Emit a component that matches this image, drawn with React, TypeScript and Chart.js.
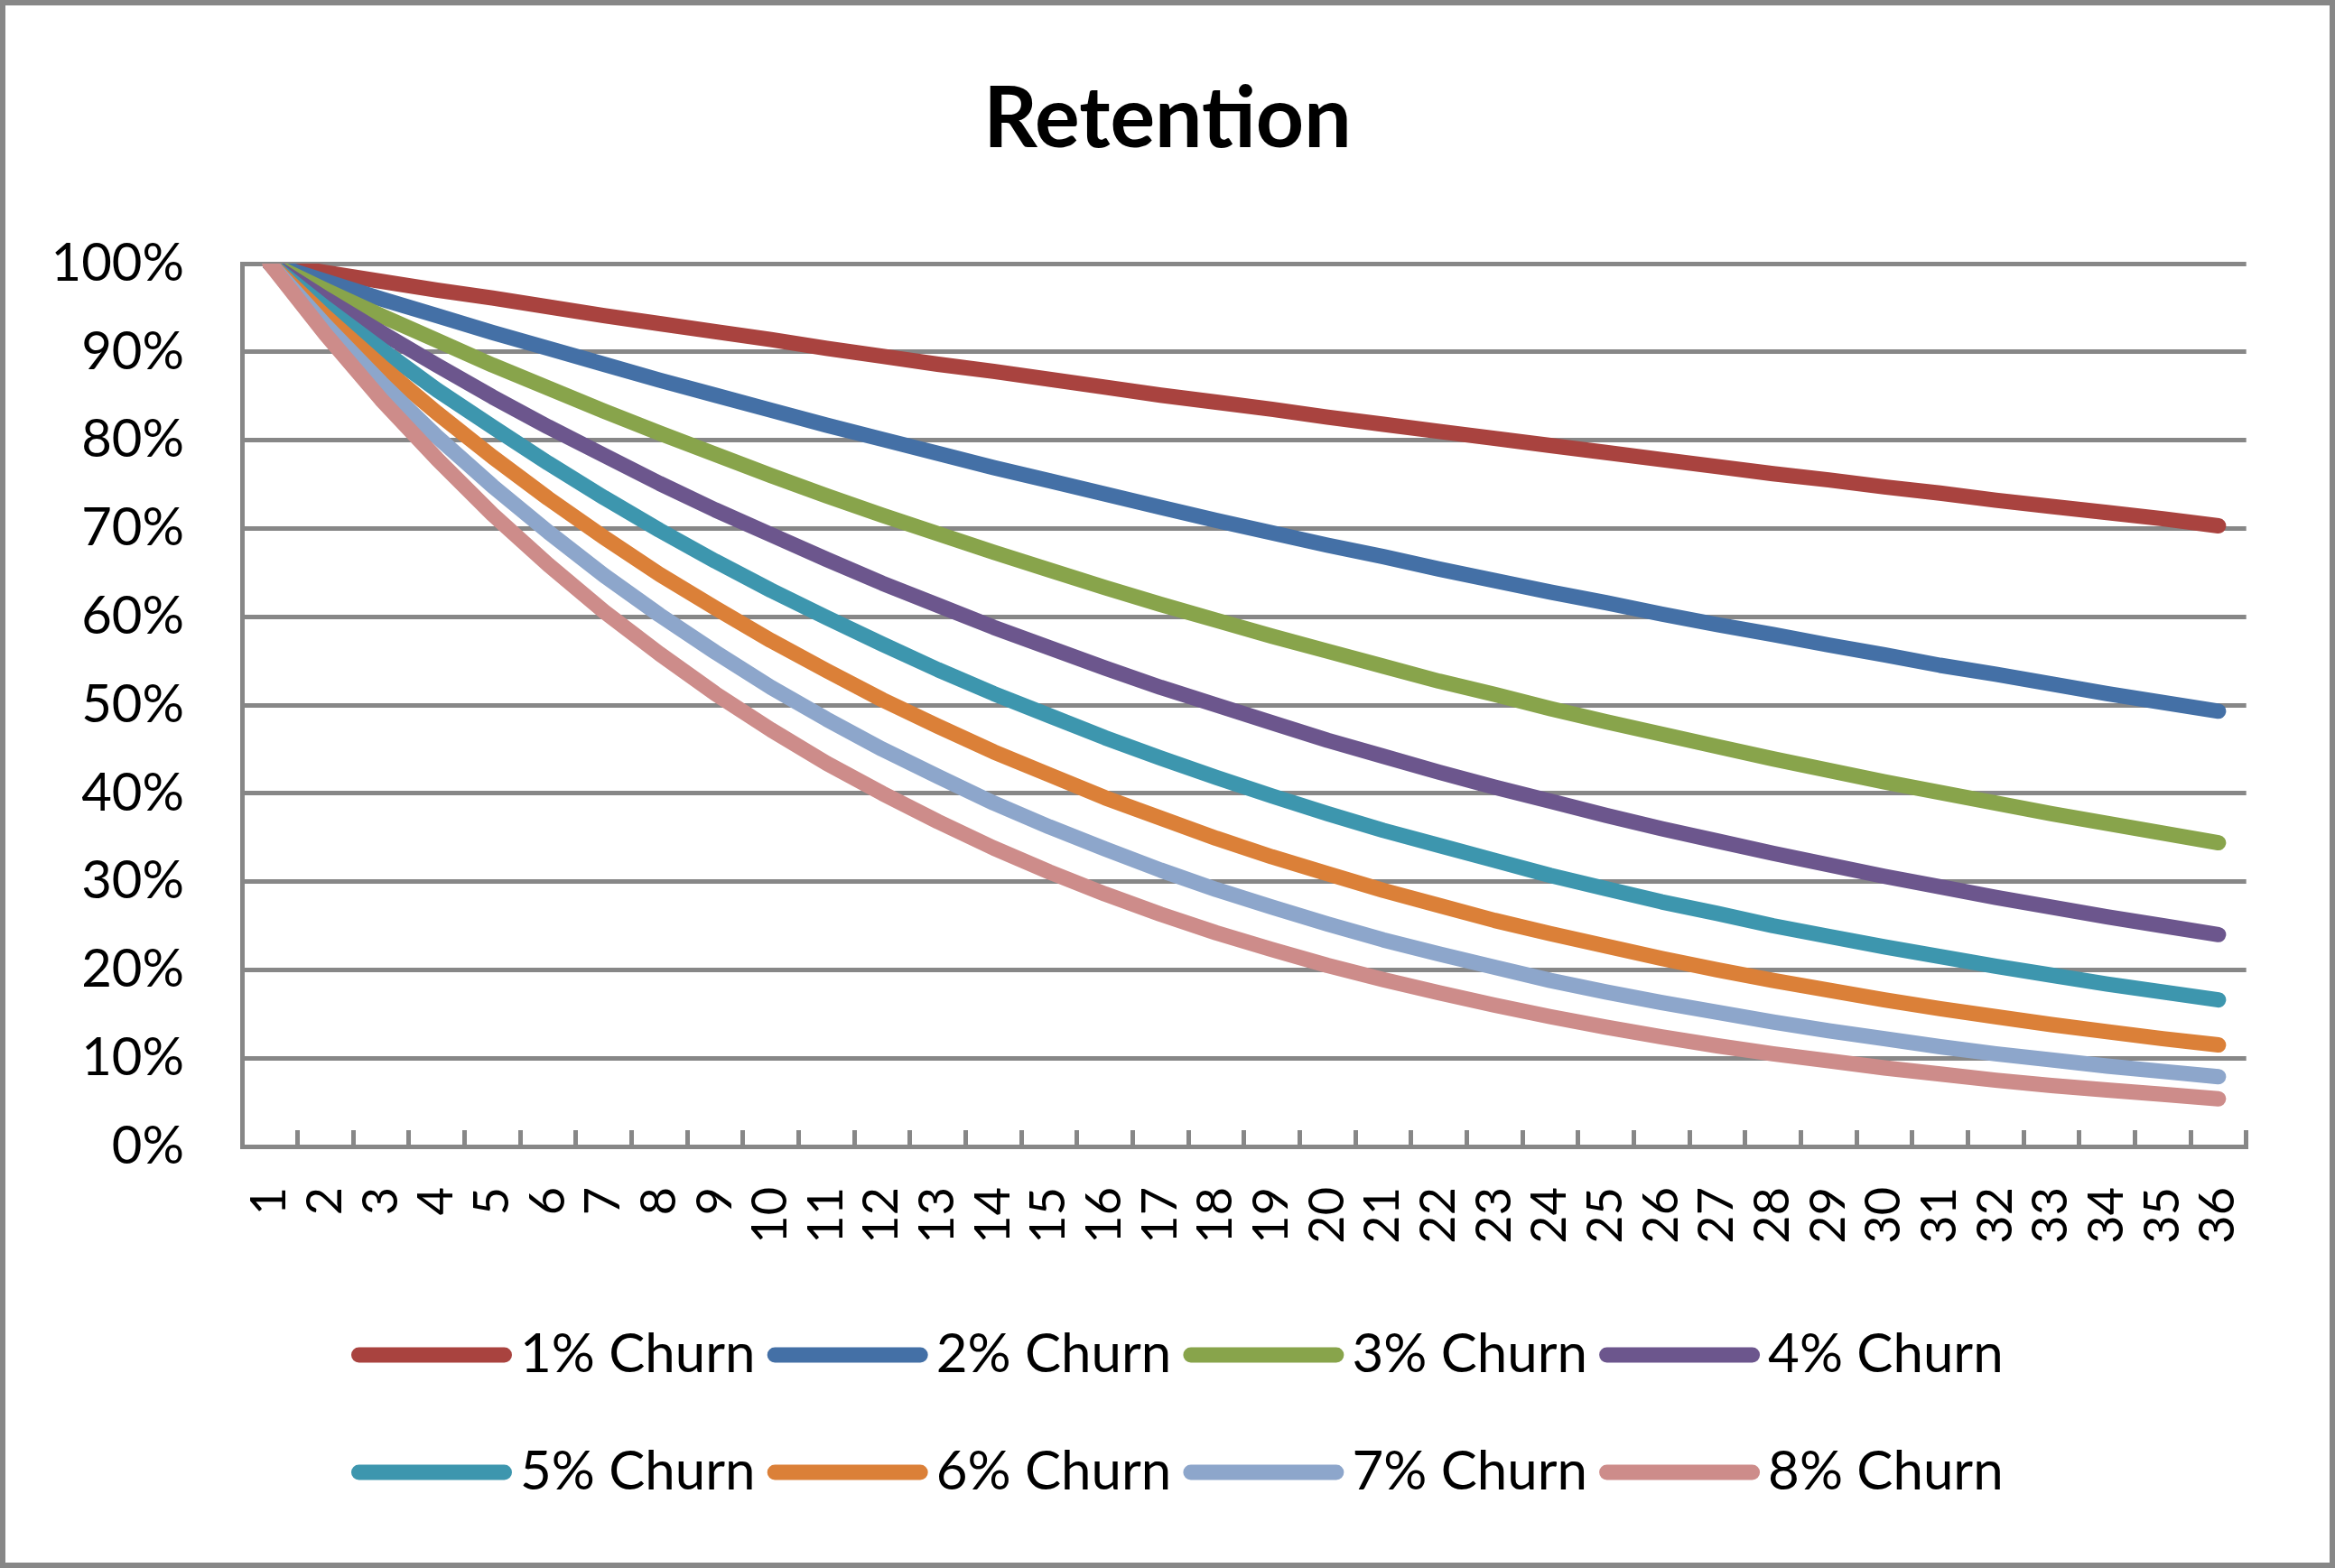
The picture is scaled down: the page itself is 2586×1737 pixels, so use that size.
import React, { useEffect, useRef } from 'react';
import { Chart, registerables } from 'chart.js';

Chart.register(...registerables);

const months = ['1','2','3','4','5','6','7','8','9','10','11','12','13','14','15','16','17','18','19','20','21','22','23','24','25','26','27','28','29','30','31','32','33','34','35','36'];

const churn1 = [1,0.99,0.98,0.97,0.961,0.951,0.941,0.932,0.923,0.914,0.904,0.895,0.886,0.878,0.869,0.86,0.851,0.843,0.835,0.826,0.818,0.81,0.802,0.794,0.786,0.778,0.77,0.762,0.755,0.747,0.74,0.732,0.725,0.718,0.711,0.703];
const churn2 = [1,0.98,0.96,0.941,0.922,0.904,0.886,0.868,0.851,0.834,0.817,0.801,0.785,0.769,0.754,0.739,0.724,0.709,0.695,0.681,0.668,0.654,0.641,0.628,0.616,0.603,0.591,0.58,0.568,0.557,0.545,0.535,0.524,0.513,0.503,0.493];
const churn3 = [1,0.97,0.941,0.913,0.885,0.859,0.833,0.808,0.784,0.76,0.737,0.715,0.694,0.673,0.653,0.633,0.614,0.596,0.578,0.561,0.544,0.527,0.512,0.496,0.481,0.467,0.453,0.439,0.426,0.413,0.401,0.389,0.377,0.366,0.355,0.344];
const churn4 = [1,0.96,0.922,0.885,0.849,0.815,0.783,0.751,0.721,0.693,0.665,0.638,0.613,0.588,0.565,0.542,0.52,0.5,0.48,0.46,0.442,0.424,0.407,0.391,0.375,0.36,0.346,0.332,0.319,0.306,0.294,0.282,0.271,0.26,0.25,0.24];
const churn5 = [1,0.95,0.903,0.857,0.815,0.774,0.735,0.698,0.663,0.63,0.599,0.569,0.54,0.513,0.488,0.463,0.44,0.418,0.397,0.377,0.358,0.341,0.324,0.307,0.292,0.277,0.264,0.25,0.238,0.226,0.215,0.204,0.194,0.184,0.175,0.166];
const churn6 = [1,0.94,0.884,0.831,0.781,0.734,0.69,0.648,0.61,0.573,0.539,0.506,0.476,0.447,0.421,0.395,0.372,0.349,0.328,0.309,0.29,0.273,0.256,0.241,0.227,0.213,0.2,0.188,0.177,0.166,0.156,0.147,0.138,0.13,0.122,0.115];
const churn7 = [1,0.93,0.865,0.804,0.748,0.696,0.647,0.602,0.56,0.52,0.484,0.45,0.419,0.389,0.362,0.337,0.313,0.291,0.271,0.252,0.234,0.218,0.203,0.188,0.175,0.163,0.152,0.141,0.131,0.122,0.113,0.105,0.098,0.091,0.085,0.079];
const churn8 = [1,0.92,0.846,0.779,0.716,0.659,0.606,0.558,0.513,0.472,0.434,0.4,0.368,0.338,0.311,0.286,0.263,0.242,0.223,0.205,0.189,0.174,0.16,0.147,0.135,0.124,0.114,0.105,0.097,0.089,0.082,0.075,0.069,0.064,0.059,0.054];

const seriesLabels = ['1% Churn','2% Churn','3% Churn','4% Churn','5% Churn','6% Churn','7% Churn','8% Churn'];
const seriesValues = [churn1, churn2, churn3, churn4, churn5, churn6, churn7, churn8];
const seriesColors = ['#A9433F','#4470A6','#88A44B','#6C568D','#3D96AE','#DB8038','#8DA6CB','#CD8C8A'];

const W = 2586;
const H = 1737;
const GRID = '#878787';
const FONT = 'Lato, "Open Sans", sans-serif';

const legendPlugin = {
  id: 'excelLegend',
  afterLayout(chart: any) {
    const t = chart.titleBlock;
    if (t) {
      t.left = 0;
      t.right = chart.width;
      t.width = chart.width;
    }
  },
  afterDraw(chart: any) {
    const ctx = chart.ctx as CanvasRenderingContext2D;
    const ds = chart.data.datasets;
    const colW = 460.7;
    const lineLen = 178;
    const lineWidth = 17;
    const gap = 9;
    const startX = chart.width / 2 - 904;
    const rowY = [1501, 1631];
    ctx.save();
    ctx.font = `60px ${FONT}`;
    ctx.textBaseline = 'alphabetic';
    ctx.textAlign = 'left';
    ds.forEach((d: any, i: number) => {
      const col = i % 4;
      const row = Math.floor(i / 4);
      const x0 = startX + col * colW;
      const y = rowY[row];
      ctx.beginPath();
      ctx.lineCap = 'round';
      ctx.lineWidth = lineWidth;
      ctx.strokeStyle = d.borderColor;
      ctx.moveTo(x0 + lineWidth / 2, y);
      ctx.lineTo(x0 + lineLen - lineWidth / 2, y);
      ctx.stroke();
      ctx.fillStyle = '#000';
      ctx.fillText(d.label, x0 + lineLen + gap, y + 19);
    });
    ctx.restore();
  },
};

export default function App() {
  const ref = useRef<HTMLCanvasElement | null>(null);
  useEffect(() => {
    if (!ref.current) return;
    const chart = new Chart(ref.current, {
      type: 'line',
      data: {
        labels: months,
        datasets: seriesValues.map((vals, i) => ({
          label: seriesLabels[i],
          data: vals,
          borderColor: seriesColors[i],
          backgroundColor: seriesColors[i],
          borderWidth: 17,
          borderCapStyle: 'round' as const,
          borderJoinStyle: 'round' as const,
          pointRadius: 0,
          pointHoverRadius: 0,
          tension: 0,
          fill: false,
          order: 8 - i,
        })),
      },
      options: {
        responsive: false,
        animation: false,
        devicePixelRatio: 1,
        layout: { padding: { left: 0, right: 96, top: 0, bottom: 337 } },
        plugins: {
          legend: { display: false },
          tooltip: { enabled: false },
          title: {
            display: true,
            text: 'Retention',
            color: '#000',
            font: { family: FONT, size: 93, weight: 'bold', lineHeight: 1.2 },
            padding: { top: 77, bottom: 103.4 },
          },
        },
        scales: {
          x: {
            type: 'category',
            offset: true,
            grid: {
              offset: true,
              drawOnChartArea: false,
              drawTicks: true,
              tickLength: -18,
              tickWidth: 5,
              tickColor: GRID,
            },
            border: { display: true, color: GRID, width: 5 },
            ticks: {
              autoSkip: false,
              maxRotation: 90,
              minRotation: 90,
              padding: 63,
              color: '#000',
              font: { family: FONT, size: 54 },
            },
            afterFit: (s: any) => { s.height = 130; },
          },
          y: {
            min: 0,
            max: 1,
            grid: {
              color: GRID,
              lineWidth: 5,
              drawTicks: false,
            },
            border: { display: true, color: GRID, width: 5 },
            ticks: {
              stepSize: 0.1,
              padding: 64,
              color: '#000',
              font: { family: FONT, size: 58 },
              callback: (v: any) => `${Math.round(Number(v) * 100)}%`,
            },
            afterFit: (s: any) => { s.width = 268; },
          },
        },
      },
      plugins: [legendPlugin],
    });
    return () => chart.destroy();
  }, []);

  return (
    <div style={{ position: 'absolute', left: 0, top: 0, width: W, height: H, background: '#fff', overflow: 'hidden' }}>
      <canvas ref={ref} width={W} height={H} style={{ display: 'block', width: W, height: H }} />
      <div style={{ position: 'absolute', left: 0, top: 0, width: W, height: H, boxSizing: 'border-box', border: `6px solid ${GRID}`, pointerEvents: 'none' }} />
    </div>
  );
}
